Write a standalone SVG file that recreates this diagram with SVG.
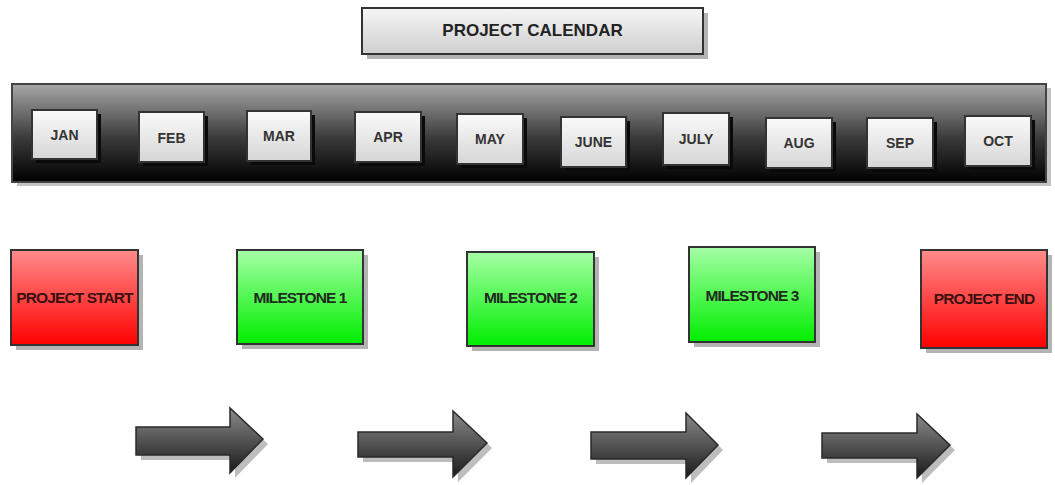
<svg xmlns="http://www.w3.org/2000/svg" width="1055" height="485" viewBox="0 0 1055 485">
  <defs>
    <linearGradient id="gTitle" x1="0" y1="0" x2="0" y2="1">
      <stop offset="0" stop-color="#f6f6f6"/>
      <stop offset="1" stop-color="#cfcfcf"/>
    </linearGradient>
    <linearGradient id="gBar" x1="0" y1="0" x2="0" y2="1">
      <stop offset="0" stop-color="#a8a8a8"/>
      <stop offset="0.55" stop-color="#3a3a3a"/>
      <stop offset="1" stop-color="#000000"/>
    </linearGradient>
    <linearGradient id="gMonth" x1="0" y1="0" x2="0" y2="1">
      <stop offset="0" stop-color="#fafafa"/>
      <stop offset="1" stop-color="#d6d6d6"/>
    </linearGradient>
    <linearGradient id="gRed" x1="0" y1="0" x2="0" y2="1">
      <stop offset="0" stop-color="#ff8c8c"/>
      <stop offset="1" stop-color="#ff0000"/>
    </linearGradient>
    <linearGradient id="gGreen" x1="0" y1="0" x2="0" y2="1">
      <stop offset="0" stop-color="#a6ffa6"/>
      <stop offset="1" stop-color="#00ee00"/>
    </linearGradient>
    <linearGradient id="gArrow" x1="0" y1="0" x2="0" y2="1">
      <stop offset="0" stop-color="#8a8a8a"/>
      <stop offset="1" stop-color="#1a1a1a"/>
    </linearGradient>
    <style>
      .frame { stroke: #333333; stroke-width: 2; }
      .shade { fill: #b4b4b4; }
      .darkshade { fill: #0a0a0a; }
      .month { fill: url(#gMonth); stroke: #333333; stroke-width: 2; }
      .lbl { font-family: "Liberation Sans", Arial, sans-serif; font-weight: bold; text-anchor: middle; dominant-baseline: central; fill: #333333; }
      .mlbl { font-size: 14px; }
      .title { font-size: 17px; fill: #222222; }
      .big { font-size: 15.5px; letter-spacing: -0.9px; fill: #1f2a1f; }
      .redtxt { fill: #3a1010; }
      .arrow { fill: url(#gArrow); stroke: #2a2a2a; stroke-width: 1.5; stroke-linejoin: miter; }
      .arrowshade { fill: #bdbdbd; }
    </style>
  </defs>

  <rect width="1055" height="485" fill="#ffffff"/>

  <!-- title -->
  <g id="title">
    <rect class="shade" x="367" y="13" width="341" height="46"/>
    <rect class="frame" x="362" y="8" width="341" height="46" fill="url(#gTitle)"/>
    <text class="lbl title" x="532.5" y="30">PROJECT CALENDAR</text>
  </g>

  <!-- month bar -->
  <g id="calendar-bar">
    <rect fill="#c4c4c4" x="17" y="88" width="1034" height="98"/>
    <rect x="12" y="84" width="1034" height="98" fill="url(#gBar)" stroke="#444444" stroke-width="2"/>
  </g>

  <g id="month-jan">
    <rect class="darkshade" x="36" y="114" width="65" height="49"/>
    <rect class="month" x="32" y="110" width="65" height="49"/>
    <text class="lbl mlbl" x="64.5" y="134.5">JAN</text>
  </g>
  <g id="month-feb">
    <rect class="darkshade" x="143" y="116" width="65" height="50"/>
    <rect class="month" x="139" y="112" width="65" height="50"/>
    <text class="lbl mlbl" x="171.5" y="138">FEB</text>
  </g>
  <g id="month-mar">
    <rect class="darkshade" x="251" y="115" width="64" height="50"/>
    <rect class="month" x="247" y="111" width="64" height="50"/>
    <text class="lbl mlbl" x="279" y="136">MAR</text>
  </g>
  <g id="month-apr">
    <rect class="darkshade" x="359" y="116" width="66" height="50"/>
    <rect class="month" x="355" y="112" width="66" height="50"/>
    <text class="lbl mlbl" x="388" y="137">APR</text>
  </g>
  <g id="month-may">
    <rect class="darkshade" x="461" y="118" width="66" height="50"/>
    <rect class="month" x="457" y="114" width="66" height="50"/>
    <text class="lbl mlbl" x="490" y="139">MAY</text>
  </g>
  <g id="month-june">
    <rect class="darkshade" x="565" y="121" width="65" height="50"/>
    <rect class="month" x="561" y="117" width="65" height="50"/>
    <text class="lbl mlbl" x="593.5" y="142">JUNE</text>
  </g>
  <g id="month-july">
    <rect class="darkshade" x="667" y="117" width="66" height="52"/>
    <rect class="month" x="663" y="113" width="66" height="52"/>
    <text class="lbl mlbl" x="696" y="139">JULY</text>
  </g>
  <g id="month-aug">
    <rect class="darkshade" x="770" y="122" width="66" height="50"/>
    <rect class="month" x="766" y="118" width="66" height="50"/>
    <text class="lbl mlbl" x="799" y="143">AUG</text>
  </g>
  <g id="month-sep">
    <rect class="darkshade" x="871" y="122" width="66" height="50"/>
    <rect class="month" x="867" y="118" width="66" height="50"/>
    <text class="lbl mlbl" x="900" y="143">SEP</text>
  </g>
  <g id="month-oct">
    <rect class="darkshade" x="969" y="120" width="66" height="50"/>
    <rect class="month" x="965" y="116" width="66" height="50"/>
    <text class="lbl mlbl" x="998" y="141">OCT</text>
  </g>

  <!-- milestones -->
  <g id="project-start">
    <rect class="shade" x="16" y="255" width="127" height="95"/>
    <rect class="frame" x="11" y="250" width="127" height="95" fill="url(#gRed)"/>
    <text class="lbl big redtxt" x="74.5" y="297">PROJECT START</text>
  </g>
  <g id="milestone-1">
    <rect class="shade" x="242" y="255" width="126" height="94"/>
    <rect class="frame" x="237" y="250" width="126" height="94" fill="url(#gGreen)"/>
    <text class="lbl big" x="300" y="297">MILESTONE 1</text>
  </g>
  <g id="milestone-2">
    <rect class="shade" x="472" y="257" width="127" height="94"/>
    <rect class="frame" x="467" y="252" width="127" height="94" fill="url(#gGreen)"/>
    <text class="lbl big" x="530.5" y="297">MILESTONE 2</text>
  </g>
  <g id="milestone-3">
    <rect class="shade" x="694" y="252" width="126" height="95"/>
    <rect class="frame" x="689" y="247" width="126" height="95" fill="url(#gGreen)"/>
    <text class="lbl big" x="752" y="295">MILESTONE 3</text>
  </g>
  <g id="project-end">
    <rect class="shade" x="926" y="255" width="126" height="98"/>
    <rect class="frame" x="921" y="250" width="126" height="98" fill="url(#gRed)"/>
    <text class="lbl big redtxt" x="984" y="298">PROJECT END</text>
  </g>

  <!-- progression arrows -->
  <g id="connectors">
    <path class="arrowshade" d="M141,432 H235 V413 L268,444 L235,478 V460 H141 Z"/>
    <path class="arrow" d="M136,427 H230 V408 L263,439 L230,473 V455 H136 Z"/>

    <path class="arrowshade" d="M363,436 H458 V416 L492,448 L458,482 V462 H363 Z"/>
    <path class="arrow" d="M358,432 H453 V411 L487,443 L453,477 V457 H358 Z"/>

    <path class="arrowshade" d="M596,437 H691 V418 L723,450 L691,483 V464 H596 Z"/>
    <path class="arrow" d="M591,432 H686 V413 L718,445 L686,478 V459 H591 Z"/>

    <path class="arrowshade" d="M827,438 H922 V419 L955,450 L922,483 V463 H827 Z"/>
    <path class="arrow" d="M822,433 H917 V414 L950,445 L917,478 V458 H822 Z"/>
  </g>
</svg>
